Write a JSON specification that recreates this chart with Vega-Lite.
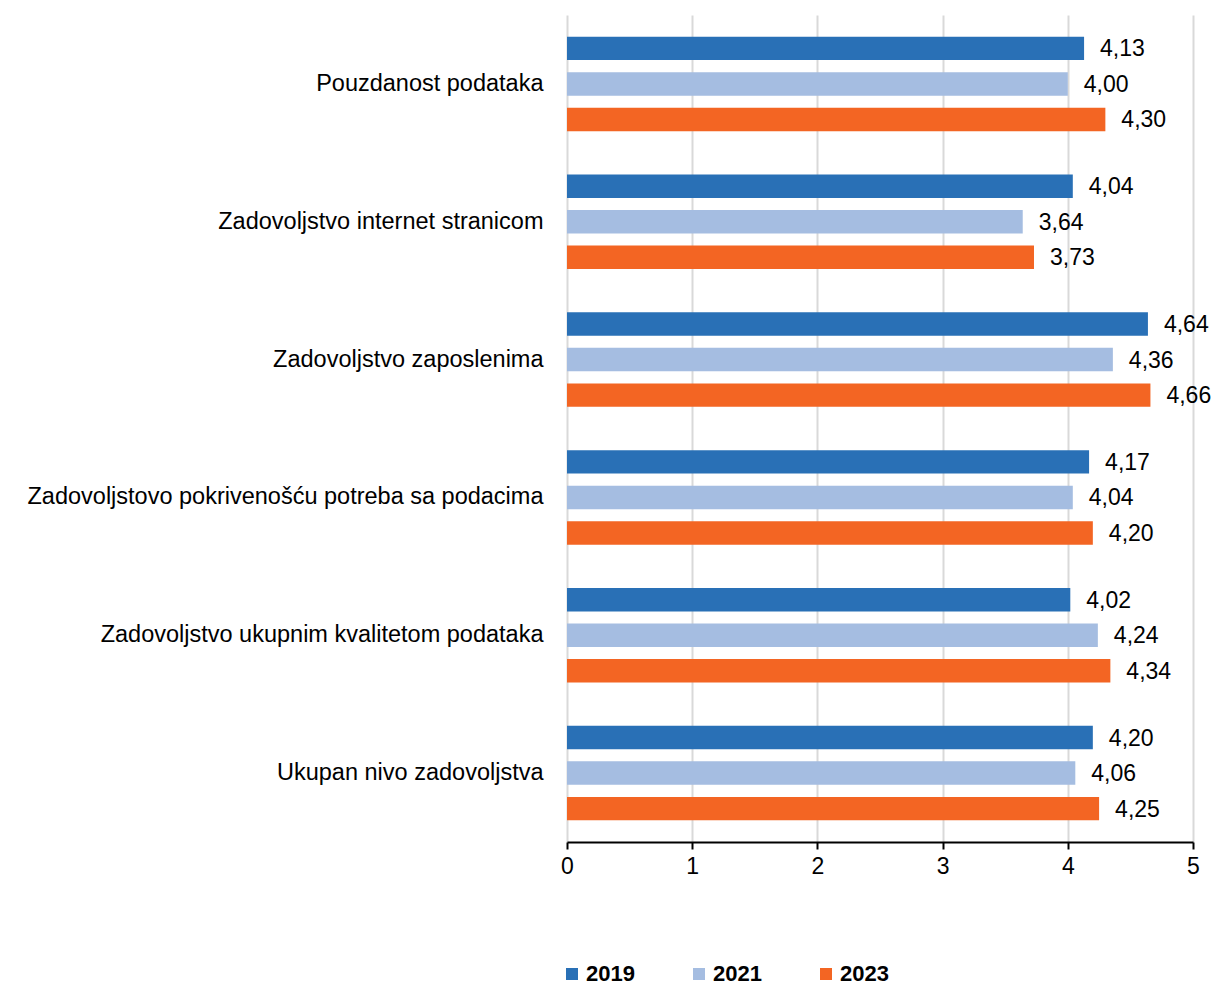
{
  "$schema": "https://vega.github.io/schema/vega-lite/v6.json",
  "autosize": "none",
  "width": 626,
  "height": 827,
  "padding": {"left": 567, "top": 15, "right": 22, "bottom": 143},
  "background": "white",
  "config": {
    "font": "Liberation Sans",
    "view": {"stroke": null}
  },
  "data": {
    "values": [
      {"cat": "Pouzdanost podataka", "year": "2019", "value": 4.13, "label": "4,13"},
      {"cat": "Pouzdanost podataka", "year": "2021", "value": 4.00, "label": "4,00"},
      {"cat": "Pouzdanost podataka", "year": "2023", "value": 4.30, "label": "4,30"},
      {"cat": "Zadovoljstvo internet stranicom", "year": "2019", "value": 4.04, "label": "4,04"},
      {"cat": "Zadovoljstvo internet stranicom", "year": "2021", "value": 3.64, "label": "3,64"},
      {"cat": "Zadovoljstvo internet stranicom", "year": "2023", "value": 3.73, "label": "3,73"},
      {"cat": "Zadovoljstvo zaposlenima", "year": "2019", "value": 4.64, "label": "4,64"},
      {"cat": "Zadovoljstvo zaposlenima", "year": "2021", "value": 4.36, "label": "4,36"},
      {"cat": "Zadovoljstvo zaposlenima", "year": "2023", "value": 4.66, "label": "4,66"},
      {"cat": "Zadovoljstovo pokrivenošću potreba sa podacima", "year": "2019", "value": 4.17, "label": "4,17"},
      {"cat": "Zadovoljstovo pokrivenošću potreba sa podacima", "year": "2021", "value": 4.04, "label": "4,04"},
      {"cat": "Zadovoljstovo pokrivenošću potreba sa podacima", "year": "2023", "value": 4.20, "label": "4,20"},
      {"cat": "Zadovoljstvo ukupnim kvalitetom podataka", "year": "2019", "value": 4.02, "label": "4,02"},
      {"cat": "Zadovoljstvo ukupnim kvalitetom podataka", "year": "2021", "value": 4.24, "label": "4,24"},
      {"cat": "Zadovoljstvo ukupnim kvalitetom podataka", "year": "2023", "value": 4.34, "label": "4,34"},
      {"cat": "Ukupan nivo zadovoljstva", "year": "2019", "value": 4.20, "label": "4,20"},
      {"cat": "Ukupan nivo zadovoljstva", "year": "2021", "value": 4.06, "label": "4,06"},
      {"cat": "Ukupan nivo zadovoljstva", "year": "2023", "value": 4.25, "label": "4,25"}
    ]
  },
  "encoding": {
    "y": {
      "field": "cat",
      "type": "nominal",
      "sort": null,
      "scale": {"paddingInner": 0.227, "paddingOuter": 0.1135},
      "axis": {
        "title": null,
        "domain": false,
        "ticks": false,
        "labelFontSize": 23.5,
        "labelColor": "black",
        "labelPadding": 24,
        "labelLimit": 0
      }
    },
    "yOffset": {
      "field": "year",
      "type": "nominal",
      "scale": {"paddingInner": 0.34, "paddingOuter": 0.17}
    },
    "x": {
      "field": "value",
      "type": "quantitative",
      "scale": {"domain": [0, 5], "nice": false},
      "axis": {
        "title": null,
        "values": [0, 1, 2, 3, 4, 5],
        "format": "d",
        "grid": true,
        "gridColor": "#D9D9D9",
        "gridWidth": 2,
        "domainColor": "black",
        "domainWidth": 2,
        "tickColor": "black",
        "tickWidth": 2,
        "tickSize": 7,
        "labelFlush": false,
        "labelFontSize": 23,
        "labelColor": "black",
        "labelPadding": 6
      }
    }
  },
  "layer": [
    {
      "mark": {"type": "bar"},
      "encoding": {
        "color": {
          "field": "year",
          "type": "nominal",
          "scale": {"domain": ["2019", "2021", "2023"], "range": ["#2970B6", "#A5BDE1", "#F36523"]},
          "legend": {
            "title": null,
            "orient": "none",
            "direction": "horizontal",
            "legendX": -6,
            "legendY": 948,
            "symbolType": "square",
            "symbolSize": 144,
            "symbolStrokeWidth": 0,
            "labelFontSize": 22,
            "labelFontWeight": "bold",
            "labelColor": "black",
            "labelOffset": 3,
            "columnPadding": 53
          }
        }
      }
    },
    {
      "mark": {"type": "text", "align": "left", "baseline": "middle", "dx": 16, "dy": 1, "fontSize": 23, "color": "black"},
      "encoding": {
        "text": {"field": "label"}
      }
    }
  ]
}
